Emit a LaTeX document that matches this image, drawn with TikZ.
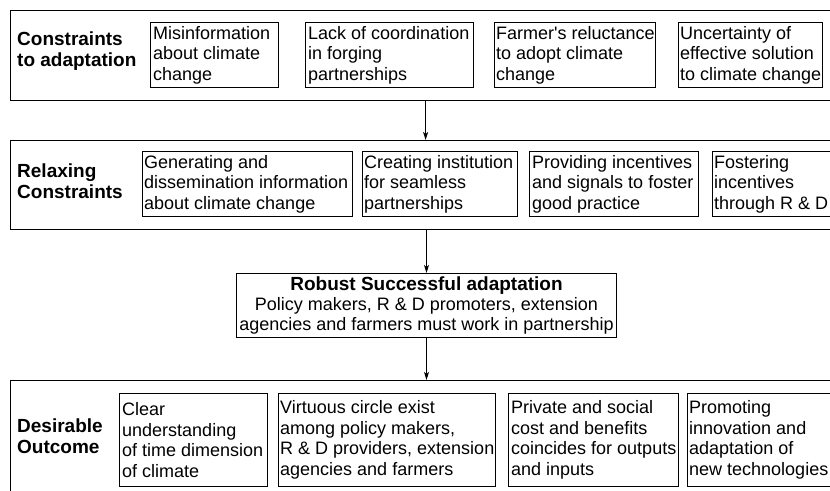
\documentclass[tikz,border=0pt]{standalone}
\usepackage{fontspec}
\setmainfont{Liberation Sans}
\usetikzlibrary{arrows.meta}
\begin{document}
\begin{tikzpicture}[x=1pt,y=-1pt,
  frame/.style={draw, line width=1.2pt, anchor=north west, inner sep=0pt, minimum width=830pt},
  cell/.style={draw, line width=1pt, anchor=north west, inner sep=0pt},
  ctext/.style={anchor=west, align=left, inner sep=0pt, font=\fontsize{18}{20.5}\selectfont},
  lab/.style={anchor=west, align=left, inner sep=0pt, font=\fontsize{19}{21.5}\selectfont\bfseries},
  arr/.style={-{Stealth[length=8pt,width=5pt,inset=2pt]}, line width=1pt}]
\useasboundingbox (0,0) rectangle (830,490);
\clip (0,0) rectangle (830,490);
% frames
\node[frame, minimum height=90pt] (f1) at (10,10) {};
\node[frame, minimum height=89pt] (f2) at (10,140) {};
\node[frame, minimum height=130pt] (f4) at (10,380) {};
% labels
\node[lab] (l1) at (17,51) {Constraints\\to adaptation};
\node[lab] (l2) at (17,181) {Relaxing\\Constraints};
\node[lab] (l4) at (17,436) {Desirable\\Outcome};
% row 1
\node[cell, minimum width=128pt, minimum height=65pt] (a1) at (150,22) {};
\node[ctext] (a1t) at ([xshift=3pt]a1.west) {Misinformation\\about climate\\change};
\node[cell, minimum width=168pt, minimum height=65pt] (a2) at (305,22) {};
\node[ctext] (a2t) at ([xshift=3pt]a2.west) {Lack of coordination\\in forging\\partnerships};
\node[cell, minimum width=161pt, minimum height=65pt] (a3) at (494,22) {};
\node[ctext] (a3t) at ([xshift=2pt]a3.west) {Farmer\textquotesingle s reluctance\\to adopt climate\\change};
\node[cell, minimum width=144pt, minimum height=65pt] (a4) at (678,22) {};
\node[ctext] (a4t) at ([xshift=2pt]a4.west) {Uncertainty of\\effective solution\\to climate change};
% row 2
\node[cell, minimum width=210pt, minimum height=65pt] (b1) at (142,151) {};
\node[ctext] (b1t) at ([xshift=2pt]b1.west) {Generating and\\dissemination information\\about climate change};
\node[cell, minimum width=155pt, minimum height=65pt] (b2) at (362,151) {};
\node[ctext] (b2t) at ([xshift=2pt]b2.west) {Creating institution\\for seamless\\partnerships};
\node[cell, minimum width=169pt, minimum height=65pt] (b3) at (529,151) {};
\node[ctext] (b3t) at ([xshift=3pt]b3.west) {Providing incentives\\and signals to foster\\good practice};
\node[cell, minimum width=118pt, minimum height=65pt] (b4) at (712,151) {};
\node[ctext] (b4t) at ([xshift=2pt]b4.west) {Fostering\\incentives\\through R \& D};
% centre
\node[draw, line width=1pt, anchor=north west, align=center, inner sep=0pt,
  minimum width=380pt, minimum height=64pt,
  font=\fontsize{18}{20}\selectfont] (c) at (236,273)
  {{\fontsize{19}{20}\selectfont\bfseries Robust Successful adaptation}\\
   Policy makers, R \& D promoters, extension\\
   agencies and farmers must work in partnership};
% row 4
\node[cell, minimum width=148pt, minimum height=93pt] (d1) at (119,393) {};
\node[ctext] (d1t) at ([xshift=3pt]d1.west) {Clear\\understanding\\of time dimension\\of climate};
\node[cell, minimum width=217pt, minimum height=93pt] (d2) at (278,393) {};
\node[ctext] (d2t) at ([xshift=2pt]d2.west) {Virtuous circle exist\\among policy makers,\\R \& D providers, extension\\agencies and farmers};
\node[cell, minimum width=170pt, minimum height=93pt] (d3) at (508,393) {};
\node[ctext] (d3t) at ([xshift=3pt]d3.west) {Private and social\\cost and benefits\\coincides for outputs\\and inputs};
\node[cell, minimum width=160pt, minimum height=93pt] (d4) at (687,393) {};
\node[ctext] (d4t) at ([xshift=2pt]d4.west) {Promoting\\innovation and\\adaptation of\\new technologies};
% arrows
\draw[arr] (f1.south) -- (f2.north);
\draw[arr] (c.north |- f2.south) -- (c.north);
\draw[arr] (c.south) -- (c.south |- f4.north);
\end{tikzpicture}
\end{document}
